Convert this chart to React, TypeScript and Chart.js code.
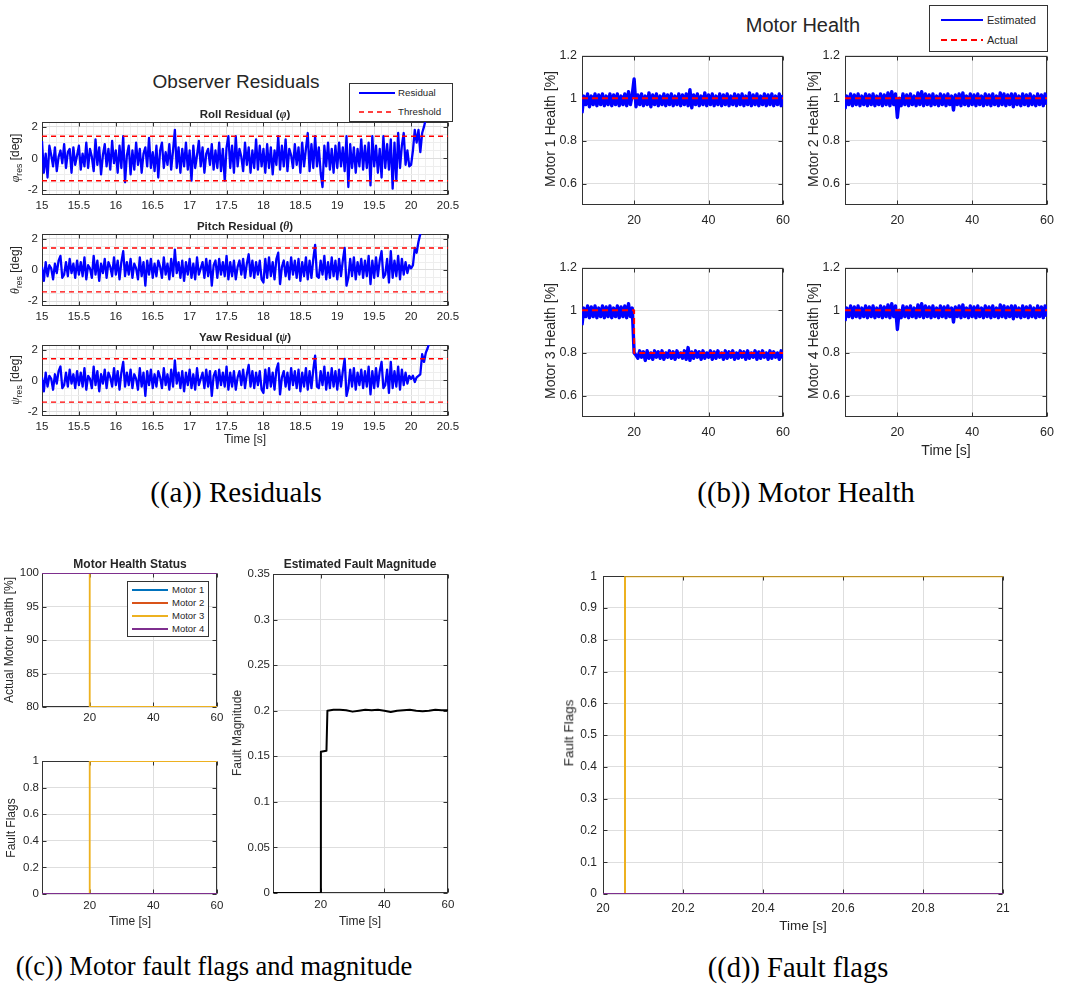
import React, { useEffect, useRef } from "react";
import { Chart, registerables } from "chart.js";

Chart.register(...registerables);

const FONT = "'Liberation Sans', Arial, Helvetica, sans-serif";
const SERIF = "'Liberation Serif', 'Times New Roman', Times, serif";
const TXT = "#262626";
const FRAME = "#333333";
const GRID_MAJOR = "#dedede";
const GRID_MINOR = "#eeeeee";
const BLUE = "#0000ff";
const RED = "#ff0000";
const MOTOR_COLORS = ["#0072bd", "#d95319", "#edb120", "#7e2f8e"];
const MOTOR_LABELS = ["Motor 1", "Motor 2", "Motor 3", "Motor 4"];

// ---------------- (a) Observer residuals ----------------
const RES_T0 = 15;
const RES_DT = 0.025;
const ROLL_RES = [
  1.1, -0.9, 0.3, -1.2, 0.8, 0.2, -0.5, 0.7, -0.8, 0.1, 0.5, -0.3, 0.9, -0.6, 0.4, 0.6, -0.9, 0.7, -0.4, 0.2,
  0.8, -0.7, 0.3, -0.5, 1.0, -0.6, 0.6, 0.1, -0.8, 1.2, -0.4, 0.7, -1.0, 0.2, 0.9, -0.5, 0.6, -0.7, 1.1, -0.3,
  0.5, -0.9, 0.8, -0.6, 1.4, -1.5, 0.2, 0.8, -1.0, 0.5, -0.7, 1.0, -0.4, 0.6, -0.9, 0.3, 0.7, -0.5, 1.3, -0.6,
  0.4, -0.8, 0.8, -1.2, 0.5, 1.0, -0.6, 0.4, -0.4, 0.9, -0.7, 0.5, 1.8, -0.6, 0.7, -0.9, 0.6, -0.5, 1.0, -0.7,
  0.5, -1.4, 0.8, -0.6, 0.2, 1.1, -0.5, 0.7, -0.9, 0.3, 0.6, -0.4, 0.9, -0.7, 0.5, -0.6, 1.0, -0.8, 0.6, -1.4,
  0.7, 1.4, -0.6, 0.8, -0.9, 1.4, -0.5, 0.6, 0.1, -0.8, 1.0, -0.4, 0.7, -0.9, 0.5, -0.6, 1.2, -0.7, 0.8, -0.5,
  0.6, -0.9, 0.9, -0.6, 0.7, -1.0, 0.5, -0.4, 1.4, -0.7, 0.8, -0.5, 1.2, -0.8, 0.6, 0.2, -0.6, 0.9, -0.4, 0.7,
  -0.9, 1.0, -0.5, 0.6, 1.6, -0.8, 0.9, -0.6, 1.4, -0.5, 0.7, -0.9, -1.8, 0.8, -0.5, 1.0, -0.7, 0.6, -0.9, 0.8,
  -0.6, 1.0, -0.5, 0.7, -0.8, 1.4, -1.8, 0.9, -0.6, 0.7, -0.9, 0.6, -0.5, 1.2, -0.7, 0.8, -0.6, 1.0, -1.7, 1.4,
  -0.5, 0.8, -0.9, 0.6, -1.2, 1.4, -0.6, 0.9, -0.7, 1.2, -1.9, 1.0, -1.4, 1.6, -0.6, 0.8, 1.6, -0.4, 0.5, -0.5,
  -0.4, 0.5, 1.8, 1.0, 1.8, 0.4, 1.6, 2.0, 2.5,
];
const PITCH_YAW_BASE = [
  0.2, -0.7, 0.5, -0.4, 0.3, 0.1, -0.6, 0.4, -0.2, 0.6, 0.9, -0.5, -0.3, 0.5, -0.4, 0.7, -0.2, 0.4, -0.5, 0.6,
  -0.3, 0.5, -0.4, 0.8, -0.6, 0.3, 0.1, -0.5, 0.9, -0.3, 0.6, -0.7, 0.4, -0.2, 0.7, -0.5, 0.5, 0.2, -0.4, 0.8,
  -0.3, 0.6, -0.6, 0.5, 1.2, -0.4, 0.5, -0.3, 0.7, -0.5, 0.4, 0.1, -0.6, 0.8, -0.4, 0.5, -1.0, 0.6, -0.3, 0.7,
  -0.5, 0.4, -0.4, 0.6, 0.2, -0.5, 0.8, -0.3, 0.4, -0.6, 0.7, -0.4, 1.3, -0.2, 0.5, -0.5, 0.6, -0.7, 0.5, -0.3,
  0.7, -0.5, 0.4, -0.6, 0.8, -0.3, 0.1, 0.5, -0.5, 0.7, -0.4, 0.6, -1.0, 0.3, 0.6, -0.5, 0.7, -0.3, 0.5, -0.4,
  0.9, -0.6, 0.5, -0.4, 0.6, -0.6, 0.2, 0.6, -0.3, 0.7, -0.5, 0.4, 1.0, -0.4, 0.6, -0.5, 0.5, -0.3, 0.6, -0.6,
  -0.8, 0.7, -0.5, 0.8, -0.4, 0.5, -0.6, 0.7, 1.1, -0.9, 0.2, 0.6, -0.4, 0.5, -0.6, 0.8, -0.3, 0.6, -0.5, 0.7,
  -0.7, 0.5, -0.4, 0.8, -0.6, 0.6, -0.5, 0.7, 1.6, -0.4, -0.5, 0.6, -0.3, 0.9, -0.6, 0.5, -0.5, 0.8, -0.4, 0.6,
  -0.6, 0.7, -0.4, 0.6, 1.4, -1.0, -0.5, 0.7, -0.4, 0.8, -0.6, 0.5, -0.3, 0.7, -0.5, 0.6, -0.4, 0.9, -0.9, 0.6,
  -0.5, 0.8, -0.4, 0.6, 1.2, -0.5, -0.3, 0.7, -0.8, 1.2, -0.5, 0.6, -0.4, 0.9, -0.6, 0.7, -0.3, 0.5, -0.2, 0.3,
];
const PITCH_TAIL = [0.1, 0.3, 1.4, 1.1, 1.8, 2.3, 2.6];
const YAW_TAIL = [0.1, 0.3, -0.1, 0.2, 0.3, 0.4, 1.7, 1.2, 1.8, 2.1, 2.5];
const PITCH_RES = [...PITCH_YAW_BASE, ...PITCH_TAIL];
const YAW_RES = [...PITCH_YAW_BASE, ...YAW_TAIL];
const THRESH_T = [15, 20.5];
const THRESH_HI = [1.4, 1.4];
const THRESH_LO = [-1.4, -1.4];
const RES_X_TICKS = [15, 15.5, 16, 16.5, 17, 17.5, 18, 18.5, 19, 19.5, 20, 20.5];
const RES_Y_TICKS = [-2, 0, 2];

// ---------------- (b) Motor health ----------------
const MH_T0 = 6;
const MH_DT = 0.5;
const MOTOR1_EST = [
  0.93, 1.01, 0.97, 1.02, 0.96, 1.01, 0.97, 1.02, 0.965, 1.015,
  0.97, 1.02, 0.965, 1.01, 0.97, 1.02, 0.965, 1.015, 0.97, 1.02,
  0.965, 1.01, 0.97, 1.02, 0.965, 1.03, 0.97, 1.015, 1.09, 0.96,
  1.015, 0.97, 1.02, 0.965, 1.01, 0.97, 1.025, 0.96, 1.015, 0.97,
  1.02, 0.965, 1.01, 0.97, 1.02, 0.965, 1.015, 0.97, 1.02, 0.965,
  1.01, 0.97, 1.02, 0.965, 1.015, 0.97, 1.02, 0.965, 1.04, 0.955,
  1.015, 0.97, 1.02, 0.965, 1.01, 0.97, 1.025, 0.965, 1.015, 0.97,
  1.02, 0.965, 1.01, 0.97, 1.02, 0.965, 1.015, 0.97, 1.02, 0.965,
  1.01, 0.97, 1.02, 0.965, 1.015, 0.97, 1.02, 0.965, 1.01, 0.97,
  1.025, 0.965, 1.015, 0.97, 1.02, 0.965, 1.01, 0.97, 1.02, 0.965,
  1.015, 0.97, 1.02, 0.965, 1.01, 0.97, 1.02, 0.965, 1.015,
];
const MOTOR2_EST = [
  0.95, 1.01, 0.97, 1.02, 0.965, 1.015, 0.97, 1.02, 0.965, 1.01,
  0.97, 1.02, 0.965, 1.015, 0.97, 1.02, 0.965, 1.01, 0.97, 1.02,
  0.965, 1.015, 0.97, 1.025, 0.965, 1.03, 0.97, 1.02, 0.91, 1.0,
  0.965, 1.02, 0.97, 1.015, 0.965, 1.02, 0.97, 1.01, 0.965, 1.025,
  0.97, 1.03, 0.965, 1.02, 0.97, 1.015, 0.965, 1.02, 0.97, 1.01,
  0.965, 1.02, 0.97, 1.015, 0.965, 1.02, 0.97, 1.01, 0.945, 1.015,
  0.97, 1.02, 0.965, 1.025, 0.97, 1.01, 0.965, 1.02, 0.97, 1.015,
  0.965, 1.02, 0.97, 1.01, 0.965, 1.02, 0.97, 1.015, 0.965, 1.02,
  0.97, 1.01, 0.965, 1.025, 0.97, 1.02, 0.965, 1.015, 0.97, 1.02,
  0.96, 1.02, 0.97, 1.01, 0.965, 1.02, 0.97, 1.015, 0.965, 1.02,
  0.97, 1.01, 0.965, 1.02, 0.97, 1.015, 0.965, 1.02, 0.97,
];
const MOTOR3_EST = [
  0.93, 1.01, 0.97, 1.02, 0.965, 1.015, 0.97, 1.02, 0.965, 1.01,
  0.97, 1.02, 0.965, 1.015, 0.97, 1.02, 0.965, 1.01, 0.97, 1.02,
  0.965, 1.015, 0.97, 1.02, 0.965, 1.03, 0.97, 1.01, 0.8, 0.79,
  0.775, 0.81, 0.78, 0.805, 0.765, 0.81, 0.775, 0.8, 0.77, 0.81,
  0.78, 0.805, 0.775, 0.81, 0.77, 0.8, 0.78, 0.81, 0.775, 0.805,
  0.77, 0.81, 0.78, 0.8, 0.775, 0.81, 0.77, 0.825, 0.765, 0.805,
  0.775, 0.81, 0.78, 0.805, 0.77, 0.81, 0.775, 0.8, 0.78, 0.81,
  0.77, 0.805, 0.775, 0.81, 0.78, 0.8, 0.77, 0.81, 0.775, 0.805,
  0.78, 0.81, 0.77, 0.8, 0.775, 0.81, 0.78, 0.805, 0.77, 0.81,
  0.775, 0.8, 0.78, 0.81, 0.77, 0.805, 0.775, 0.81, 0.78, 0.8,
  0.77, 0.81, 0.775, 0.805, 0.78, 0.8, 0.77, 0.81, 0.775,
];
const MOTOR4_EST = MOTOR2_EST;
const ACTUAL_T = [6, 20, 20, 60];
const ACTUAL_HEALTHY = [1, 1, 1, 1];
const ACTUAL_M3 = [1, 1, 0.8, 0.8];
const MH_X_TICKS = [20, 40, 60];
const MH_Y_TICKS = [0.6, 0.8, 1, 1.2];

// ---------------- (c) Status, flags, magnitude ----------------
const STATUS_T = [5, 20, 20, 60];
const STATUS_VALUES = [
  [100, 100, 100, 100],
  [100, 100, 100, 100],
  [100, 100, 80, 80],
  [100, 100, 100, 100],
];
const FLAG_VALUES = [
  [0, 0, 0, 0],
  [0, 0, 0, 0],
  [0, 0, 1, 1],
  [0, 0, 0, 0],
];
const FM_T = [5, 20, 20.05, 21.8, 22.1, 24, 26, 28, 30, 32, 34, 36, 38, 40, 42, 44, 46, 48, 50, 52, 54, 56, 58, 60];
const FM_V = [0, 0, 0.155, 0.156, 0.2, 0.201, 0.201, 0.2005, 0.199, 0.2, 0.201, 0.2005, 0.201, 0.2, 0.1985, 0.2, 0.2005, 0.201, 0.2, 0.1995, 0.2, 0.201, 0.2005, 0.2005];
const C_X_TICKS = [20, 40, 60];
const STATUS_Y_TICKS = [80, 85, 90, 95, 100];
const FLAG_Y_TICKS = [0, 0.2, 0.4, 0.6, 0.8, 1];
const FM_Y_TICKS = [0, 0.05, 0.1, 0.15, 0.2, 0.25, 0.3, 0.35];

// ---------------- (d) Fault flags zoom ----------------
const D_T = [20, 20.055, 20.055, 21];
const D_FLAG_VALUES = [
  [0, 0, 0, 0],
  [0, 0, 0, 0],
  [0, 0, 1, 1],
  [0, 0, 0, 0],
];
const D_X_TICKS = [20, 20.2, 20.4, 20.6, 20.8, 21];
const D_Y_TICKS = [0, 0.1, 0.2, 0.3, 0.4, 0.5, 0.6, 0.7, 0.8, 0.9, 1];

// ---------------- helpers ----------------
const sampled = (vals: number[], t0: number, dt: number) => vals.map((y, i) => ({ x: t0 + i * dt, y }));
const paired = (xs: number[], ys: number[]) => xs.map((x, i) => ({ x, y: ys[i] }));
const steps = (a: number, b: number, s: number) => {
  const out: number[] = [];
  const n = Math.round((b - a) / s);
  for (let i = 0; i <= n; i++) out.push(+(a + i * s).toFixed(6));
  return out;
};
const fmt = (v: number) => String(+(+v).toFixed(4));
const has = (arr: number[], v: number) => arr.some((a) => Math.abs(a - v) < 1e-7);

type Box = { l: number; t: number; r: number; b: number };
type AxisSpec = { min: number; max: number; grid: number[]; labels: number[]; pad: number };
type PlotSpec = { box: Box; x: AxisSpec; y: AxisSpec; font: number; datasets: any[] };

const PT = 10;
const PR = 18;
const YW = 50;
const XH = 30;

const ds = (data: any[], color: string, width: number, dash?: number[]) => ({
  data,
  borderColor: color,
  backgroundColor: color,
  borderWidth: width,
  borderDash: dash || [],
  pointRadius: 0,
  fill: false,
  tension: 0,
  borderJoinStyle: "round",
});

const framePlugin = {
  id: "frame",
  beforeDatasetsDraw(chart: any, _args: any, opts: any) {
    const { ctx, chartArea: ca, scales } = chart;
    ctx.save();
    ctx.strokeStyle = FRAME;
    ctx.lineWidth = 1;
    const L = Math.round(ca.left) + 0.5;
    const R = Math.round(ca.right) - 0.5;
    const T = Math.round(ca.top) + 0.5;
    const B = Math.round(ca.bottom) - 0.5;
    ctx.strokeRect(L, T, R - L, B - T);
    const len = 4;
    ctx.beginPath();
    (opts.xTicks || []).forEach((v: number) => {
      const p = Math.round(scales.x.getPixelForValue(v)) + 0.5;
      ctx.moveTo(p, B);
      ctx.lineTo(p, B - len);
      ctx.moveTo(p, T);
      ctx.lineTo(p, T + len);
    });
    (opts.yTicks || []).forEach((v: number) => {
      const p = Math.round(scales.y.getPixelForValue(v)) + 0.5;
      ctx.moveTo(L, p);
      ctx.lineTo(L + len, p);
      ctx.moveTo(R, p);
      ctx.lineTo(R - len, p);
    });
    ctx.stroke();
    ctx.restore();
  },
};

function axis(a: AxisSpec, horizontal: boolean, font: number) {
  return {
    type: "linear",
    min: a.min,
    max: a.max,
    afterBuildTicks: (s: any) => {
      s.ticks = a.grid.map((v) => ({ value: v }));
    },
    afterFit: (s: any) => {
      if (horizontal) s.height = XH;
      else s.width = YW;
    },
    grid: {
      drawTicks: false,
      lineWidth: 1,
      color: (c: any) => (c.tick && has(a.labels, c.tick.value) ? GRID_MAJOR : GRID_MINOR),
    },
    border: { display: false },
    ticks: {
      autoSkip: false,
      maxRotation: 0,
      minRotation: 0,
      padding: a.pad,
      color: TXT,
      font: { family: FONT, size: font },
      callback: (v: any) => (has(a.labels, +v) ? fmt(+v) : ""),
    },
  };
}

function buildConfig(spec: PlotSpec) {
  const n = spec.datasets.length;
  return {
    type: "line",
    data: { datasets: spec.datasets.map((d, i) => ({ ...d, order: n - i })) },
    options: {
      responsive: false,
      maintainAspectRatio: false,
      animation: false,
      events: [],
      layout: { padding: { top: PT, right: PR, left: 0, bottom: 0 } },
      plugins: {
        legend: { display: false },
        title: { display: false },
        tooltip: { enabled: false },
        frame: { xTicks: spec.x.labels, yTicks: spec.y.labels },
      },
      scales: { x: axis(spec.x, true, spec.font), y: axis(spec.y, false, spec.font) },
    },
    plugins: [framePlugin],
  };
}

function Plot({ spec }: { spec: PlotSpec }) {
  const ref = useRef<HTMLCanvasElement | null>(null);
  const { l, t, r, b } = spec.box;
  const w = r - l + YW + PR;
  const h = b - t + PT + XH;
  useEffect(() => {
    if (!ref.current) return;
    const chart = new Chart(ref.current, buildConfig(spec) as any);
    return () => chart.destroy();
  }, []);
  return (
    <canvas
      ref={ref}
      width={w}
      height={h}
      style={{ position: "absolute", left: l - YW, top: t - PT, width: w, height: h }}
    />
  );
}

function Txt(props: { x: number; y: number; size: number; bold?: boolean; rot?: boolean; family?: string; color?: string; children: any }) {
  const { x, y, size, bold, rot, family, color, children } = props;
  return (
    <div
      style={{
        position: "absolute",
        left: x,
        top: y,
        transform: `translate(-50%, -50%)${rot ? " rotate(-90deg)" : ""}`,
        fontSize: size,
        fontWeight: bold ? "bold" : "normal",
        fontFamily: family || FONT,
        color: color || TXT,
        whiteSpace: "nowrap",
        lineHeight: 1.15,
      }}
    >
      {children}
    </div>
  );
}

type LegItem = { label: string; color: string; width: number; dash?: number[] };
function Legend(props: { left: number; top: number; width: number; height: number; items: LegItem[]; rows: number[]; x0: number; x1: number; tx: number; size: number }) {
  const { left, top, width, height, items, rows, x0, x1, tx, size } = props;
  return (
    <div style={{ position: "absolute", left, top, width, height, border: `1px solid ${FRAME}`, background: "#fff", boxSizing: "border-box" }}>
      <svg width={width} height={height} style={{ position: "absolute", left: -1, top: -1 }}>
        {items.map((it, i) => (
          <line key={i} x1={x0} x2={x1} y1={rows[i]} y2={rows[i]} stroke={it.color} strokeWidth={it.width} strokeDasharray={it.dash ? it.dash.join(" ") : undefined} />
        ))}
      </svg>
      {items.map((it, i) => (
        <div key={i} style={{ position: "absolute", left: tx - 1, top: rows[i] - 1, transform: "translateY(-50%)", fontSize: size, fontFamily: FONT, color: TXT, lineHeight: 1, whiteSpace: "nowrap" }}>
          {it.label}
        </div>
      ))}
    </div>
  );
}

// ---------------- plot specs ----------------
const resX: AxisSpec = { min: 15, max: 20.5, grid: steps(15, 20.5, 0.1), labels: RES_X_TICKS, pad: 3.5 };
const resY: AxisSpec = { min: -2.3, max: 2.3, grid: steps(-2, 2, 0.5), labels: RES_Y_TICKS, pad: 4 };
const resSpec = (box: Box, vals: number[]): PlotSpec => ({
  box,
  x: resX,
  y: resY,
  font: 11.5,
  datasets: [
    ds(sampled(vals, RES_T0, RES_DT), BLUE, 2.3),
    ds(paired(THRESH_T, THRESH_HI), RED, 1.4, [5, 4]),
    ds(paired(THRESH_T, THRESH_LO), RED, 1.4, [5, 4]),
  ],
});

const mhX: AxisSpec = { min: 6, max: 60, grid: MH_X_TICKS, labels: MH_X_TICKS, pad: 8 };
const mhY: AxisSpec = { min: 0.5, max: 1.2, grid: MH_Y_TICKS, labels: MH_Y_TICKS, pad: 5 };
const mhSpec = (box: Box, est: number[], act: number[]): PlotSpec => ({
  box,
  x: mhX,
  y: mhY,
  font: 12.5,
  datasets: [ds(sampled(est, MH_T0, MH_DT), BLUE, 3.4), ds(paired(ACTUAL_T, act), RED, 2, [6, 4])],
});

const cX = (pad: number): AxisSpec => ({ min: 5, max: 60, grid: C_X_TICKS, labels: C_X_TICKS, pad });

const PLOTS: PlotSpec[] = [
  resSpec({ l: 42, t: 121, r: 448, b: 195 }, ROLL_RES),
  resSpec({ l: 42, t: 233, r: 448, b: 306 }, PITCH_RES),
  resSpec({ l: 42, t: 344, r: 448, b: 416 }, YAW_RES),
  mhSpec({ l: 582, t: 53, r: 783, b: 205 }, MOTOR1_EST, ACTUAL_HEALTHY),
  mhSpec({ l: 845, t: 53, r: 1047, b: 205 }, MOTOR2_EST, ACTUAL_HEALTHY),
  mhSpec({ l: 582, t: 265, r: 783, b: 417 }, MOTOR3_EST, ACTUAL_M3),
  mhSpec({ l: 845, t: 265, r: 1047, b: 417 }, MOTOR4_EST, ACTUAL_HEALTHY),
  {
    box: { l: 42, t: 573, r: 217, b: 707 },
    x: cX(4),
    y: { min: 80, max: 100, grid: STATUS_Y_TICKS, labels: STATUS_Y_TICKS, pad: 3 },
    font: 11.5,
    datasets: STATUS_VALUES.map((v, i) => ds(paired(STATUS_T, v), MOTOR_COLORS[i], 1.8)),
  },
  {
    box: { l: 42, t: 761, r: 217, b: 894 },
    x: cX(5),
    y: { min: 0, max: 1, grid: FLAG_Y_TICKS, labels: FLAG_Y_TICKS, pad: 3 },
    font: 11.5,
    datasets: FLAG_VALUES.map((v, i) => ds(paired(STATUS_T, v), MOTOR_COLORS[i], 1.8)),
  },
  {
    box: { l: 273, t: 574, r: 448, b: 893 },
    x: cX(5),
    y: { min: 0, max: 0.35, grid: FM_Y_TICKS, labels: FM_Y_TICKS, pad: 3 },
    font: 11.5,
    datasets: [ds(paired(FM_T, FM_V), "#000000", 2)],
  },
  {
    box: { l: 603, t: 573, r: 1003, b: 894 },
    x: { min: 20, max: 21, grid: D_X_TICKS, labels: D_X_TICKS, pad: 7 },
    y: { min: 0, max: 1, grid: D_Y_TICKS, labels: D_Y_TICKS, pad: 6 },
    font: 12,
    datasets: D_FLAG_VALUES.map((v, i) => ds(paired(D_T, v), MOTOR_COLORS[i], 2)),
  },
];

const Greek = ({ c }: { c: string }) => <span style={{ fontFamily: SERIF, fontStyle: "italic" }}>{c}</span>;
const ResLabel = ({ c }: { c: string }) => (
  <span>
    <Greek c={c} />
    <span style={{ fontSize: "0.72em", position: "relative", top: "0.35em" }}>res</span> [deg]
  </span>
);

export default function App() {
  return (
    <div style={{ position: "absolute", left: 0, top: 0, width: 1071, height: 990, background: "#fff", overflow: "hidden", fontFamily: FONT }}>
      {PLOTS.map((p, i) => (
        <Plot key={i} spec={p} />
      ))}

      {/* (a) */}
      <Txt x={236} y={82} size={19}>Observer Residuals</Txt>
      <Txt x={245} y={115} size={11.5} bold>Roll Residual (<Greek c="φ" />)</Txt>
      <Txt x={245} y={227} size={11.5} bold>Pitch Residual (<Greek c="θ" />)</Txt>
      <Txt x={245} y={338} size={11.5} bold>Yaw Residual (<Greek c="ψ" />)</Txt>
      <Txt x={16} y={158} size={12} rot><ResLabel c="φ" /></Txt>
      <Txt x={16} y={270} size={12} rot><ResLabel c="θ" /></Txt>
      <Txt x={16} y={380} size={12} rot><ResLabel c="ψ" /></Txt>
      <Txt x={245} y={440} size={12}>Time [s]</Txt>
      <Legend
        left={349}
        top={83}
        width={104}
        height={39}
        items={[
          { label: "Residual", color: BLUE, width: 2 },
          { label: "Threshold", color: RED, width: 1.4, dash: [5, 4] },
        ]}
        rows={[10, 29]}
        x0={10}
        x1={46}
        tx={49}
        size={9.7}
      />

      {/* (b) */}
      <Txt x={803} y={25} size={20}>Motor Health</Txt>
      <Legend
        left={929}
        top={5}
        width={119}
        height={47}
        items={[
          { label: "Estimated", color: BLUE, width: 2 },
          { label: "Actual", color: RED, width: 2, dash: [6, 4] },
        ]}
        rows={[15, 35]}
        x0={12}
        x1={54}
        tx={58}
        size={11}
      />
      <Txt x={550} y={129} size={14} rot>Motor 1 Health [%]</Txt>
      <Txt x={813} y={129} size={14} rot>Motor 2 Health [%]</Txt>
      <Txt x={550} y={341} size={14} rot>Motor 3 Health [%]</Txt>
      <Txt x={813} y={341} size={14} rot>Motor 4 Health [%]</Txt>
      <Txt x={946} y={450} size={14}>Time [s]</Txt>

      {/* (c) */}
      <Txt x={130} y={565} size={12} bold>Motor Health Status</Txt>
      <Txt x={360} y={565} size={12} bold>Estimated Fault Magnitude</Txt>
      <Txt x={10} y={640} size={12} rot>Actual Motor Health [%]</Txt>
      <Txt x={12} y={828} size={12} rot>Fault Flags</Txt>
      <Txt x={238} y={733} size={12} rot>Fault Magnitude</Txt>
      <Txt x={130} y={922} size={12}>Time [s]</Txt>
      <Txt x={360} y={922} size={12}>Time [s]</Txt>
      <Legend
        left={127}
        top={581}
        width={82}
        height={56}
        items={MOTOR_LABELS.map((lb, i) => ({ label: lb, color: MOTOR_COLORS[i], width: 1.8 }))}
        rows={[9, 22, 35, 48]}
        x0={5}
        x1={41}
        tx={45}
        size={9.5}
      />

      {/* (d) */}
      <Txt x={569} y={733} size={13.5} rot>Fault Flags</Txt>
      <Txt x={803} y={926} size={13.5}>Time [s]</Txt>

      {/* captions */}
      <Txt x={236} y={493} size={29} family={SERIF} color="#000">((a)) Residuals</Txt>
      <Txt x={806} y={493} size={29} family={SERIF} color="#000">((b)) Motor Health</Txt>
      <Txt x={214} y={966} size={26.5} family={SERIF} color="#000">((c)) Motor fault flags and magnitude</Txt>
      <Txt x={798} y={968} size={28.5} family={SERIF} color="#000">((d)) Fault flags</Txt>
    </div>
  );
}
